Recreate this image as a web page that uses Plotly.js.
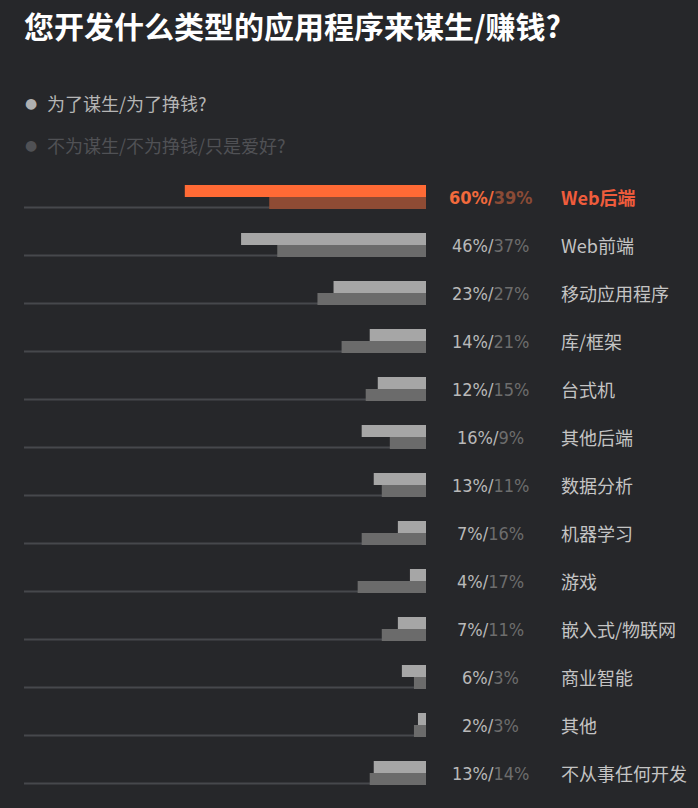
<!DOCTYPE html>
<html>
<head>
<meta charset="utf-8">
<script src="https://cdn.plot.ly/plotly-3.0.1.min.js"></script>
<style>
  html, body { margin: 0; padding: 0; background: #26272a; }
  #chart { width: 698px; height: 808px; }
</style>
</head>
<body>
<div id="chart"></div>
<script>
// categories, top to bottom
const categories = ['Web后端', 'Web前端', '移动应用程序', '库/框架', '台式机', '其他后端',
    '数据分析', '机器学习', '游戏', '嵌入式/物联网', '商业智能', '其他', '不从事任何开发'];
// % who build it for a living / to earn money
const forMoney = [60, 46, 23, 14, 12, 16, 13, 7, 4, 7, 6, 2, 13];
// % who build it not for money, just as a hobby
const forHobby = [39, 37, 27, 21, 15, 9, 11, 16, 17, 11, 3, 3, 14];
const seriesNames = ['为了谋生/为了挣钱?', '不为谋生/不为挣钱/只是爱好?'];
const titleText = '您开发什么类型的应用程序来谋生/赚钱?';

const BG = '#26272a';
const ORANGE = '#ff6a35';
const ORANGE_DARK = '#8e4b34';
const LIGHT = '#a6a6a6';
const DARK = '#6b6b6b';
const CJK = '"Noto Sans CJK SC", "Noto Sans", sans-serif';

// plot area in pixels (for placing the side texts)
const plotLeft = 24, plotRight = 426;
const px = x => (x - plotLeft) / (plotRight - plotLeft);

const topColors = categories.map((c, i) => i === 0 ? ORANGE : LIGHT);
const botColors = categories.map((c, i) => i === 0 ? ORANGE_DARK : DARK);

const traces = [
    {
        type: 'bar', orientation: 'h', name: seriesNames[0],
        x: forMoney, y: categories,
        marker: { color: topColors, line: { width: 0 } },
        hoverinfo: 'skip'
    },
    {
        type: 'bar', orientation: 'h', name: seriesNames[1],
        x: forHobby, y: categories,
        marker: { color: botColors, line: { width: 0 } },
        hoverinfo: 'skip'
    }
];

// baseline under each row
const shapes = categories.map(c => ({
    type: 'line', layer: 'below',
    xref: 'x', yref: 'y', x0: 0, x1: 100,
    ysizemode: 'pixel', yanchor: c, y0: -10.5, y1: -10.5,
    line: { color: '#46484c', width: 2 }
}));

const annotations = [];
categories.forEach((c, i) => {
    const first = i === 0;
    const c1 = first ? '#f26a3c' : '#b9b9b9';
    const c2 = first ? '#8a4b36' : '#6d6d6d';
    const pct = `<span style="color:${c1}">${forMoney[i]}%/</span>` +
        `<span style="color:${c2}">${forHobby[i]}%</span>`;
    annotations.push({
        xref: 'paper', yref: 'y', x: px(490), y: c, xanchor: 'center', yanchor: 'middle',
        text: first ? '<b>' + pct + '</b>' : pct, showarrow: false,
        font: { family: '"DejaVu Sans Condensed", "DejaVu Sans", sans-serif', size: 18, color: c1 }
    });
    annotations.push({
        xref: 'paper', yref: 'y', x: px(559), y: c, xanchor: 'left', yanchor: 'middle',
        text: first ? '<b>' + c + '</b>' : c, showarrow: false,
        font: { family: CJK, size: 18, color: first ? '#f05c3c' : '#c4c4c4' }
    });
});

// legend rows
const legendRows = [
    { y: 103, color: '#b5b5b5', dot: '#b0b0b0' },
    { y: 145, color: '#505155', dot: '#505155' }
];
legendRows.forEach((r, i) => {
    annotations.push({
        xref: 'paper', yref: 'paper', x: px(31), y: 1 + (173 - r.y) / 624,
        xanchor: 'center', yanchor: 'middle', text: '●', showarrow: false,
        font: { family: 'DejaVu Sans', size: 14, color: r.dot }
    });
    annotations.push({
        xref: 'paper', yref: 'paper', x: px(45), y: 1 + (173 - r.y) / 624,
        xanchor: 'left', yanchor: 'middle', text: seriesNames[i], showarrow: false,
        font: { family: CJK, size: 18, color: r.color }
    });
});

const layout = {
    width: 698,
    height: 808,
    paper_bgcolor: BG,
    plot_bgcolor: BG,
    margin: { l: plotLeft, r: 698 - plotRight, t: 173, b: 11, pad: 0 },
    title: {
        text: '<b>' + titleText + '</b>',
        font: { family: CJK, size: 30, color: '#ffffff' },
        x: 24 / 698, xanchor: 'left', xref: 'container',
        y: 1 - 27 / 808, yanchor: 'middle', yref: 'container'
    },
    barmode: 'group',
    bargap: 0.5,
    bargroupgap: 0,
    showlegend: false,
    xaxis: {
        range: [100, 0], showgrid: false, zeroline: false,
        showticklabels: false, ticks: '', fixedrange: true
    },
    yaxis: {
        type: 'category', autorange: 'reversed', showgrid: false,
        zeroline: false, showticklabels: false, ticks: '', fixedrange: true
    },
    shapes: shapes,
    annotations: annotations
};

Plotly.newPlot('chart', traces, layout, { displayModeBar: false, staticPlot: true });
</script>
</body>
</html>
